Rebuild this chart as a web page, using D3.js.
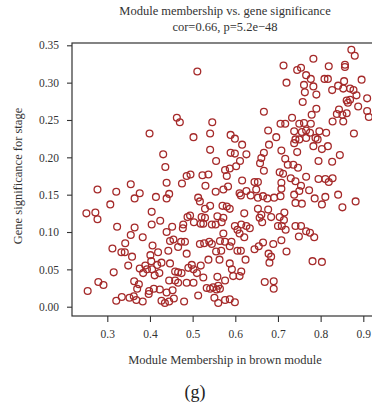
<!DOCTYPE html>
<html>
<head>
<meta charset="utf-8">
<script src="https://cdn.jsdelivr.net/npm/d3@7"></script>
<style>
  body { margin: 0; background: #fff; }
  svg text { font-family: "Liberation Serif", "DejaVu Serif", serif; fill: #333; }
</style>
</head>
<body>
<div id="chart"></div>
<script>
//************* data ***************/
// module membership (x) and gene significance (y)
var mm = [
  .399,.277,.321,.355,.376,.364,.414,.307,.251,.272,.277,.404,.404,.424,.323,.364,.355,.383,.342,.312,
  .333,.341,.358,.406,.401,.419,.349,.315,.376,.389,.403,.384,.393,.405,.417,.411,.422,.279,.291,.254,
  .363,.374,.370,.398,.409,.423,.321,.334,.352,.362,.368,.383,.397,
  .511,.463,.470,.546,.541,.502,.541,.431,.555,.436,.486,.495,.523,.537,.576,.580,.439,.475,.530,.572,
  .445,.439,.513,.517,.554,.541,.529,.570,.580,.494,.488,.503,.521,.529,.525,.519,.545,.554,.558,.568,
  .572,.452,.478,.477,.439,.572,.455,.447,.473,.482,.517,.527,.539,.545,.564,.576,.466,.486,.443,.555,
  .567,.537,.563,.447,.427,.498,.519,.502,.490,.510,.459,.466,.474,.445,.459,.466,.486,.502,.525,.558,
  .576,.533,.541,.548,.556,.564,.560,.439,.453,.427,.435,.445,.456,.480,.513,.551,.560,.576,
  .713,.720,.667,.677,.696,.706,.717,.589,.599,.616,.679,.589,.599,.626,.667,.661,.611,.602,.658,.667,
  .708,.717,.587,.704,.712,.583,.616,.645,.653,.649,.708,.708,.610,.613,.626,.636,.653,.665,.675,.691,
  .706,.587,.621,.653,.677,.661,.657,.663,.684,.704,.714,.700,.709,.718,.599,.605,.614,.626,.634,.610,
  .621,.591,.587,.645,.655,.665,.689,.708,.720,.605,.613,.624,.678,.684,.680,.587,.592,.595,.614,.610,
  .669,.690,.690,.587,.599,
  .783,.819,.745,.754,.766,.777,.809,.817,.761,.783,.763,.790,.827,.758,.790,.779,.733,.750,.761,.777,
  .828,.738,.756,.766,.775,.797,.813,.741,.750,.766,.788,.793,.738,.783,.803,.817,.745,.795,.827,.723,
  .736,.747,.730,.741,.766,.754,.773,.795,.811,.819,.828,.738,.750,.786,.811,.803,.741,.756,.715,.741,
  .754,.766,.775,.785,.749,.781,.803,
  .872,.880,.857,.857,.896,.855,.841,.853,.869,.877,.884,.909,.861,.869,.864,.888,.909,.913,.843,.861,
  .851,.838,.853,.878,.845,.841,.882,.851
];
var gs = [
  .232,.157,.154,.164,.152,.145,.147,.137,.125,.126,.117,.127,.110,.115,.107,.106,.096,.093,.085,.078,
  .073,.073,.067,.082,.069,.073,.055,.046,.051,.055,.061,.045,.050,.050,.056,.042,.045,.033,.029,.021,
  .034,.030,.024,.021,.024,.023,.008,.013,.012,.014,.009,.007,.017,
  .315,.253,.247,.247,.232,.227,.210,.204,.195,.187,.175,.177,.176,.177,.183,.175,.166,.165,.162,.157,
  .151,.145,.146,.141,.154,.135,.131,.135,.134,.122,.120,.113,.120,.119,.111,.111,.110,.110,.121,.113,
  .119,.107,.110,.105,.100,.098,.090,.088,.087,.087,.084,.085,.087,.084,.088,.087,.080,.071,.075,.074,
  .075,.063,.063,.058,.059,.056,.055,.050,.052,.045,.047,.046,.045,.035,.035,.032,.032,.032,.039,.040,
  .035,.025,.024,.026,.023,.024,.028,.019,.022,.008,.005,.007,.011,.007,.015,.012,.005,.009,
  .323,.300,.261,.236,.227,.245,.245,.230,.225,.217,.217,.206,.205,.204,.206,.199,.195,.188,.192,.182,
  .209,.198,.185,.180,.178,.161,.169,.167,.167,.157,.166,.158,.152,.149,.155,.149,.146,.148,.145,.146,
  .148,.131,.125,.131,.130,.123,.119,.113,.120,.120,.116,.108,.108,.103,.108,.103,.110,.108,.105,.098,
  .093,.087,.081,.077,.081,.086,.084,.089,.074,.075,.075,.063,.071,.067,.059,.058,.050,.041,.047,.041,
  .033,.034,.024,.010,.006,
  .332,.322,.317,.320,.310,.305,.305,.305,.297,.295,.287,.284,.290,.274,.265,.257,.253,.245,.246,.245,
  .248,.235,.234,.236,.233,.235,.233,.224,.224,.226,.226,.224,.219,.215,.211,.215,.207,.195,.194,.190,
  .190,.186,.172,.168,.174,.162,.156,.171,.171,.167,.172,.150,.155,.145,.147,.137,.139,.138,.126,.108,
  .108,.101,.099,.093,.094,.061,.060,
  .344,.336,.324,.321,.304,.302,.296,.292,.292,.290,.283,.279,.276,.277,.273,.268,.262,.254,.264,.259,
  .257,.258,.248,.232,.203,.150,.141,.133
];
var xTicks = [0.3, 0.4, 0.5, 0.6, 0.7, 0.8, 0.9];
var yTicks = [0, 0.05, 0.10, 0.15, 0.20, 0.25, 0.30, 0.35];

var points = mm.map(function(d, i) { return {x: d, y: gs[i]}; });

//************* dimensions ***************/
var W = 372, H = 411;
var box = {left: 72, top: 43, right: 378, bottom: 316};

var svg = d3.select("#chart")
  .append("svg")
    .attr("width", W)
    .attr("height", H);

// scales (pinned on the tick positions of the original)
var x = d3.scaleLinear().domain([0.3, 0.9]).range([107.3, 363.3]);
var y = d3.scaleLinear().domain([0, 0.35]).range([306.7, 45.3]);

//***************** title *******************/
var cx = (box.left + box.right) / 2;
svg.append("text")
  .attr("x", cx).attr("y", 15)
  .attr("text-anchor", "middle")
  .style("font-size", "12.5px")
  .text("Module membership vs. gene significance");
svg.append("text")
  .attr("x", cx).attr("y", 31)
  .attr("text-anchor", "middle")
  .style("font-size", "12.5px")
  .text("cor=0.66, p=5.2e\u221248");

//************* points ***************/
svg.append("g")
  .selectAll("circle")
  .data(points)
  .enter()
  .append("circle")
    .attr("cx", function(d) { return x(d.x); })
    .attr("cy", function(d) { return y(d.y); })
    .attr("r", 3.4)
    .attr("fill", "none")
    .attr("stroke", "#a52a2a")
    .attr("stroke-width", 1.3);

//************* box ***************/
svg.append("rect")
  .attr("x", box.left).attr("y", box.top)
  .attr("width", box.right - box.left)
  .attr("height", box.bottom - box.top)
  .attr("fill", "none")
  .attr("stroke", "#333")
  .attr("stroke-width", 1.2);

//************* axes ***************/
var xAxis = svg.append("g")
  .attr("transform", "translate(0," + box.bottom + ")")
  .call(d3.axisBottom(x).tickValues(xTicks).tickSize(6).tickPadding(8).tickFormat(d3.format(".1f")));
xAxis.select(".domain").remove();
xAxis.selectAll("line").attr("stroke", "#333").attr("stroke-width", 1.1);
xAxis.selectAll("text").style("font-size", "11.5px").style("font-family", "Liberation Serif").attr("fill", "#333");

var yAxis = svg.append("g")
  .attr("transform", "translate(" + box.left + ",0)")
  .call(d3.axisLeft(y).tickValues(yTicks).tickSize(5).tickPadding(8).tickFormat(d3.format(".2f")));
yAxis.select(".domain").remove();
yAxis.selectAll("line").attr("stroke", "#333").attr("stroke-width", 1.1);
yAxis.selectAll("text").style("font-size", "11.5px").style("font-family", "Liberation Serif").attr("fill", "#333");

//************* labels ***************/
svg.append("text")
  .attr("x", cx).attr("y", 364)
  .attr("text-anchor", "middle")
  .style("font-size", "12.5px")
  .text("Module Membership in brown module");

svg.append("text")
  .attr("transform", "translate(22,176) rotate(-90)")
  .attr("text-anchor", "middle")
  .style("font-size", "12.5px")
  .text("Gene significance for stage");

svg.append("text")
  .attr("x", 195).attr("y", 398)
  .attr("text-anchor", "middle")
  .style("font-size", "18px")
  .style("fill", "#222")
  .text("(g)");
</script>
</body>
</html>
